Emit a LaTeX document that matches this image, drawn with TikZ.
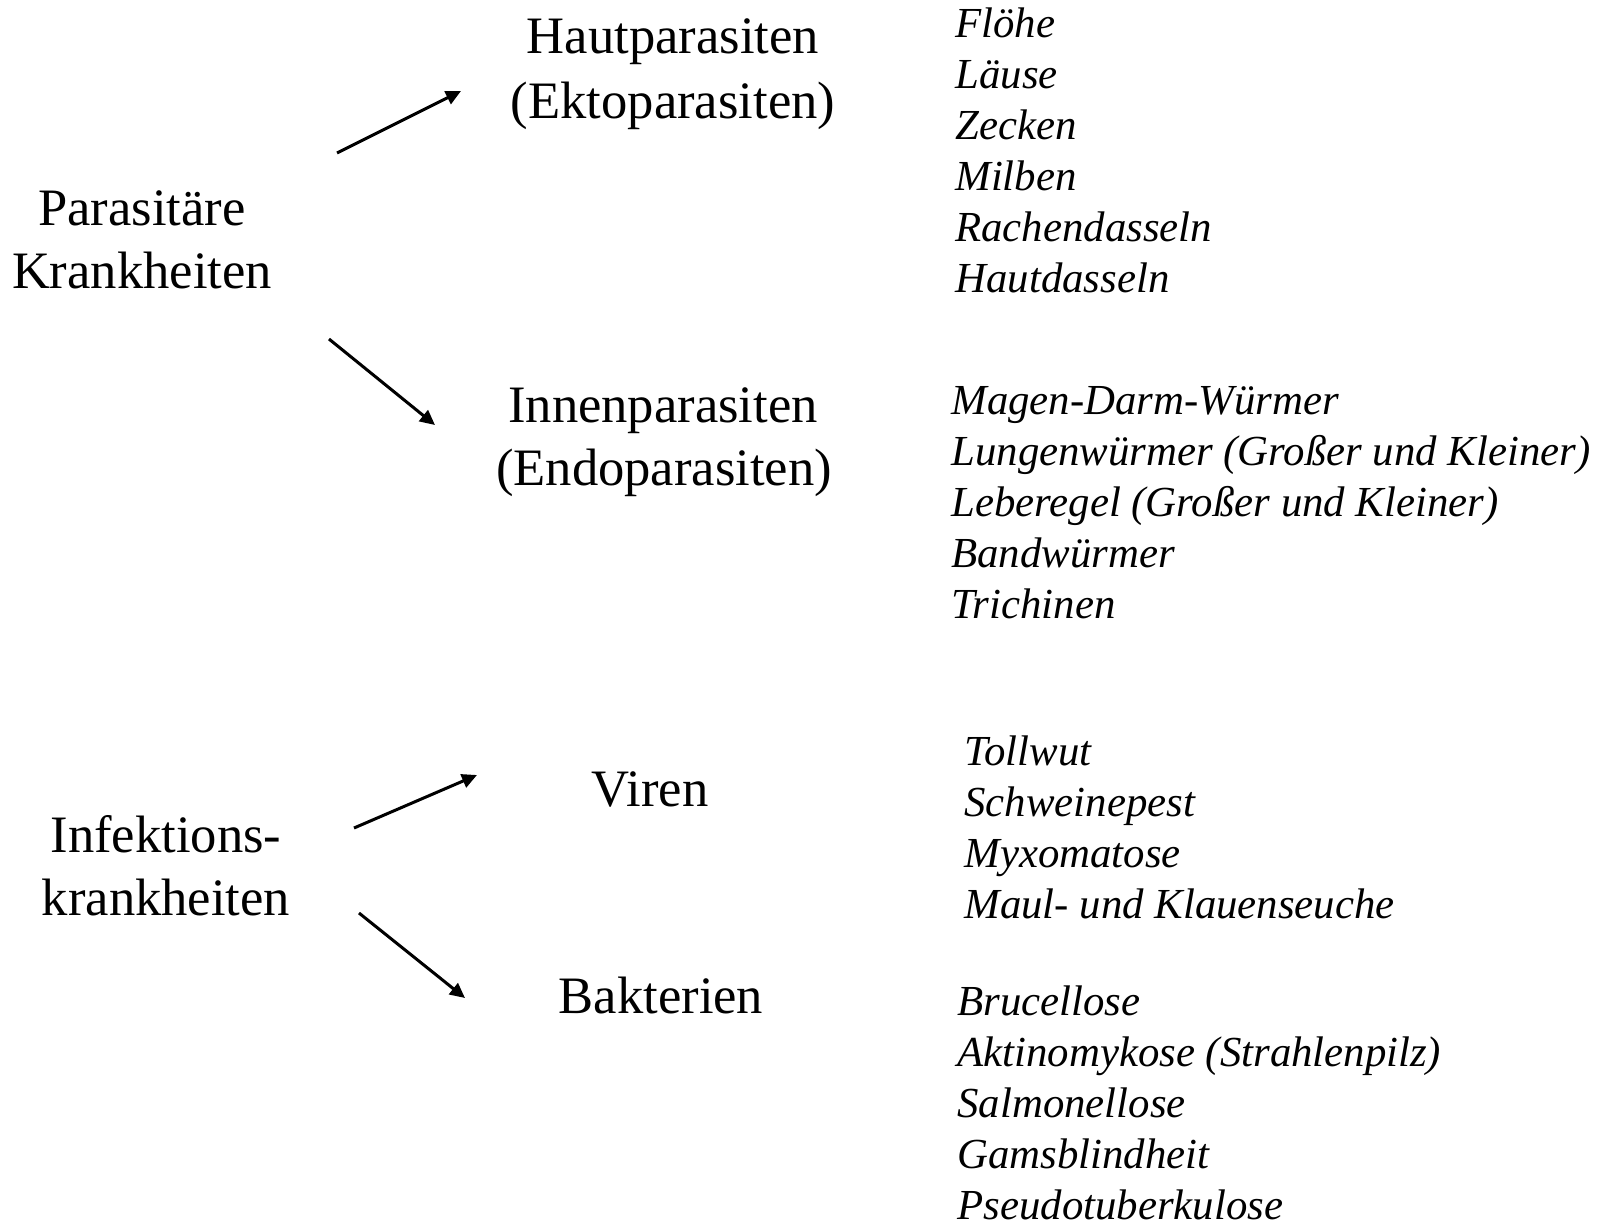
\documentclass[tikz,border=0pt]{standalone}
\usepackage{fontspec}
\setmainfont{Liberation Serif}
\usetikzlibrary{arrows.meta}
\begin{document}
\begin{tikzpicture}[x=0.5pt,y=-0.5pt,
  mainlbl/.style={anchor=base,inner sep=0pt,font=\fontsize{26.3pt}{31.6pt}\selectfont},
  item/.style={anchor=base west,inner sep=0pt,font=\fontsize{21.4pt}{25.7pt}\selectfont\itshape},
  conn/.style={line width=1.5pt,-{Triangle[length=7.5pt,width=7pt]}}]
\useasboundingbox (0,0) rectangle (1600,1222);
% left labels
\node[mainlbl] (pk1) at (142,225) {Parasitäre};
\node[mainlbl] (pk2) at (142,288) {Krankheiten};
\node[mainlbl] (ik1) at (166,852) {Infektions-};
\node[mainlbl] (ik2) at (166,915) {krankheiten};
% middle labels
\node[mainlbl] (hp1) at (673,53) {Hautparasiten};
\node[mainlbl] (hp2) at (673,118) {(Ektoparasiten)};
\node[mainlbl] (ip1) at (663,422) {Innenparasiten};
\node[mainlbl] (ip2) at (664,485) {(Endoparasiten)};
\node[mainlbl] (vir) at (650,806) {Viren};
\node[mainlbl] (bak) at (661,1013) {Bakterien};
% lists
\node[item] (h1) at (955,37) {Flöhe};
\node[item] (h2) at (955,88) {Läuse};
\node[item] (h3) at (955,139) {Zecken};
\node[item] (h4) at (955,190) {Milben};
\node[item] (h5) at (955,241) {Rachendasseln};
\node[item] (h6) at (955,292) {Hautdasseln};
\node[item] (e1) at (951,414) {Magen-Darm-Würmer};
\node[item] (e2) at (951,465) {Lungenwürmer (Großer und Kleiner)};
\node[item] (e3) at (951,516) {Leberegel (Großer und Kleiner)};
\node[item] (e4) at (951,567) {Bandwürmer};
\node[item] (e5) at (951,618) {Trichinen};
\node[item] (v1) at (964,765) {Tollwut};
\node[item] (v2) at (964,816) {Schweinepest};
\node[item] (v3) at (964,867) {Myxomatose};
\node[item] (v4) at (964,918) {Maul- und Klauenseuche};
\node[item] (b1) at (957,1015) {Brucellose};
\node[item] (b2) at (957,1066) {Aktinomykose (Strahlenpilz)};
\node[item] (b3) at (957,1117) {Salmonellose};
\node[item] (b4) at (957,1168) {Gamsblindheit};
\node[item] (b5) at (957,1219) {Pseudotuberkulose};
% arrows
\coordinate (a1s) at (337,153);
\coordinate (a1e) at (461,91);
\coordinate (a2s) at (329,339);
\coordinate (a2e) at (435,425);
\coordinate (a3s) at (354,828);
\coordinate (a3e) at (477,775);
\coordinate (a4s) at (359,913);
\coordinate (a4e) at (465,998);
\draw[conn] (a1s) -- (a1e);
\draw[conn] (a2s) -- (a2e);
\draw[conn] (a3s) -- (a3e);
\draw[conn] (a4s) -- (a4e);
\end{tikzpicture}
\end{document}
